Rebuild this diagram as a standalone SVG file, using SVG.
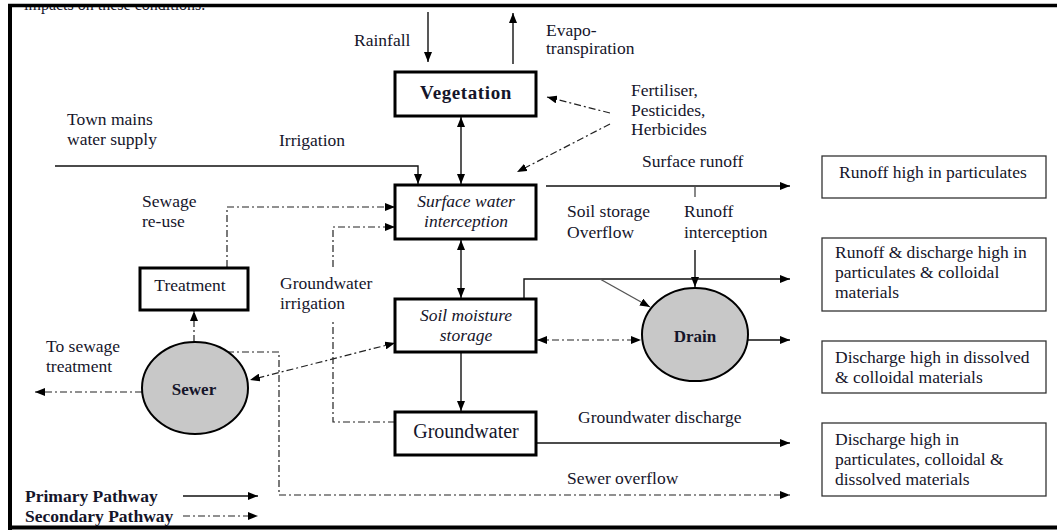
<svg xmlns="http://www.w3.org/2000/svg" width="1057" height="531" viewBox="0 0 1057 531">
  <style>
    text { font-family: "Liberation Serif", "Times New Roman", serif; font-size: 17.5px; fill: #15152a; }
    .b { font-weight: bold; }
    .i { font-style: italic; }
    .c { text-anchor: middle; }
    .box { fill: #fff; stroke: #000; stroke-width: 3; }
    .obox { fill: #fff; stroke: #333; stroke-width: 1.3; }
    .tank { fill: #c8c8c8; stroke: #000; stroke-width: 2; }
    .p { fill: none; stroke: #111; stroke-width: 1.4; }
    .g { fill: none; stroke: #555; stroke-width: 1.4; }
    .s { fill: none; stroke: #222; stroke-width: 1.2; stroke-dasharray: 7 3 2 3; }
    .ah { marker-end: url(#ah); }
    .both { marker-start: url(#ah); marker-end: url(#ah); }
  </style>
  <defs>
    <marker id="ah" viewBox="0 0 10 8" refX="10" refY="4" markerWidth="10" markerHeight="8" markerUnits="userSpaceOnUse" orient="auto-start-reverse">
      <path d="M0,0 L10,4 L0,8 z" fill="#000"/>
    </marker>
  </defs>

  <rect width="1057" height="531" fill="#fff"/>

  <!-- caption line running off the top of the page -->
  <text x="24" y="9.5" style="font-size:16px">impacts on these conditions.</text>
  <rect x="0" y="0" width="1057" height="4" fill="#fff"/>

  <!-- page frame -->
  <g id="frame" stroke="#000" fill="none">
    <line x1="8" y1="5.5" x2="1057" y2="5.5" stroke-width="3.5"/>
    <line x1="10" y1="4" x2="10" y2="530" stroke-width="4"/>
    <line x1="8" y1="527.5" x2="1057" y2="527.5" stroke-width="4"/>
  </g>

  <!-- connectors -->
  <g id="connectors">
    <line class="p ah" x1="428" y1="12" x2="428" y2="62"/>
    <line class="p ah" x1="513" y1="64" x2="513" y2="13"/>
    <line class="p both" x1="461" y1="117" x2="461" y2="184"/>
    <path class="p ah" d="M55,166 H418 V184"/>
    <path class="s ah" d="M610,113 L547,97"/>
    <path class="s ah" d="M610,124 L517,172"/>
    <path class="p ah" d="M546,186 H790"/>
    <path class="g" d="M695,187 V197"/>
    <path class="p ah" d="M695,250 V287"/>
    <line class="p both" x1="461" y1="240" x2="461" y2="298"/>
    <path class="p ah" d="M524,299 V279 H790"/>
    <path class="g ah" d="M600,279 L650,307"/>
    <path class="s both" d="M537,340 H641"/>
    <path class="p ah" d="M748,340 H790"/>
    <path class="p ah" d="M461,352 V411"/>
    <path class="p ah" d="M536,443 H790"/>
    <path class="s" d="M395,422 H333 V321"/>
    <path class="s ah" d="M333,267 V227 H395"/>
    <path class="s ah" d="M227,267 V207 H395"/>
    <path class="s ah" d="M194,342 V311"/>
    <path class="s ah" d="M142,392 H35"/>
    <path class="s both" d="M395,343 L250,380"/>
    <path class="s ah" d="M227,352 H279 V495 H790"/>
    <path class="p ah" d="M183,496 H258"/>
    <path class="s ah" d="M183,516 H258"/>
  </g>

  <!-- free labels -->
  <g id="labels">
    <text x="354" y="46">Rainfall</text>
    <text x="546" y="36">Evapo-</text>
    <text x="546" y="54">transpiration</text>
    <text x="631" y="96">Fertiliser,</text>
    <text x="631" y="116">Pesticides,</text>
    <text x="631" y="135">Herbicides</text>
    <text x="67" y="125">Town mains</text>
    <text x="67" y="145">water supply</text>
    <text x="279" y="146">Irrigation</text>
    <text x="642" y="167">Surface runoff</text>
    <text x="567" y="217">Soil storage</text>
    <text x="567" y="238">Overflow</text>
    <text x="684" y="217">Runoff</text>
    <text x="684" y="238">interception</text>
    <text x="142" y="207">Sewage</text>
    <text x="142" y="227">re-use</text>
    <text x="280" y="289">Groundwater</text>
    <text x="280" y="309">irrigation</text>
    <text x="46" y="352">To sewage</text>
    <text x="46" y="372">treatment</text>
    <text x="578" y="423">Groundwater discharge</text>
    <text x="567" y="484">Sewer overflow</text>
  </g>

  <!-- process nodes -->
  <g id="vegetation">
    <rect class="box" x="395" y="72" width="141" height="44"/>
    <text class="b c" x="466" y="99" style="font-size:19px;letter-spacing:0.6px">Vegetation</text>
  </g>
  <g id="surface-water">
    <rect class="box" x="395" y="185" width="141" height="54"/>
    <text class="i c" x="466" y="207">Surface water</text>
    <text class="i c" x="466" y="227">interception</text>
  </g>
  <g id="soil-moisture">
    <rect class="box" x="395" y="299" width="141" height="53"/>
    <text class="i c" x="466" y="321">Soil moisture</text>
    <text class="i c" x="466" y="341">storage</text>
  </g>
  <g id="groundwater">
    <rect class="box" x="395" y="412" width="141" height="43"/>
    <text class="c" x="466" y="438" style="font-size:20px">Groundwater</text>
  </g>
  <g id="treatment">
    <rect class="box" x="140" y="268" width="108" height="42"/>
    <text class="c" x="190" y="291">Treatment</text>
  </g>
  <g id="sewer">
    <ellipse class="tank" cx="195" cy="388" rx="53" ry="46"/>
    <text class="b c" x="194" y="395" style="font-size:17px">Sewer</text>
  </g>
  <g id="drain">
    <ellipse class="tank" cx="695" cy="334.5" rx="53" ry="46.5"/>
    <text class="b c" x="695" y="342" style="font-size:17px">Drain</text>
  </g>

  <!-- outcome boxes -->
  <g id="out-runoff">
    <rect class="obox" x="822" y="156" width="224" height="42"/>
    <text x="839" y="178">Runoff high in particulates</text>
  </g>
  <g id="out-runoff-discharge">
    <rect class="obox" x="822" y="238" width="224" height="73"/>
    <text x="835" y="258">Runoff &amp; discharge high in</text>
    <text x="835" y="278">particulates &amp; colloidal</text>
    <text x="835" y="298">materials</text>
  </g>
  <g id="out-dissolved">
    <rect class="obox" x="822" y="341" width="224" height="52"/>
    <text x="835" y="363">Discharge high in dissolved</text>
    <text x="835" y="383">&amp; colloidal materials</text>
  </g>
  <g id="out-all">
    <rect class="obox" x="822" y="423" width="224" height="73"/>
    <text x="835" y="445">Discharge high in</text>
    <text x="835" y="465">particulates, colloidal &amp;</text>
    <text x="835" y="485">dissolved materials</text>
  </g>

  <!-- legend -->
  <g id="legend">
    <text class="b" x="25" y="502">Primary Pathway</text>
    <text class="b" x="25" y="522">Secondary Pathway</text>
  </g>
</svg>
